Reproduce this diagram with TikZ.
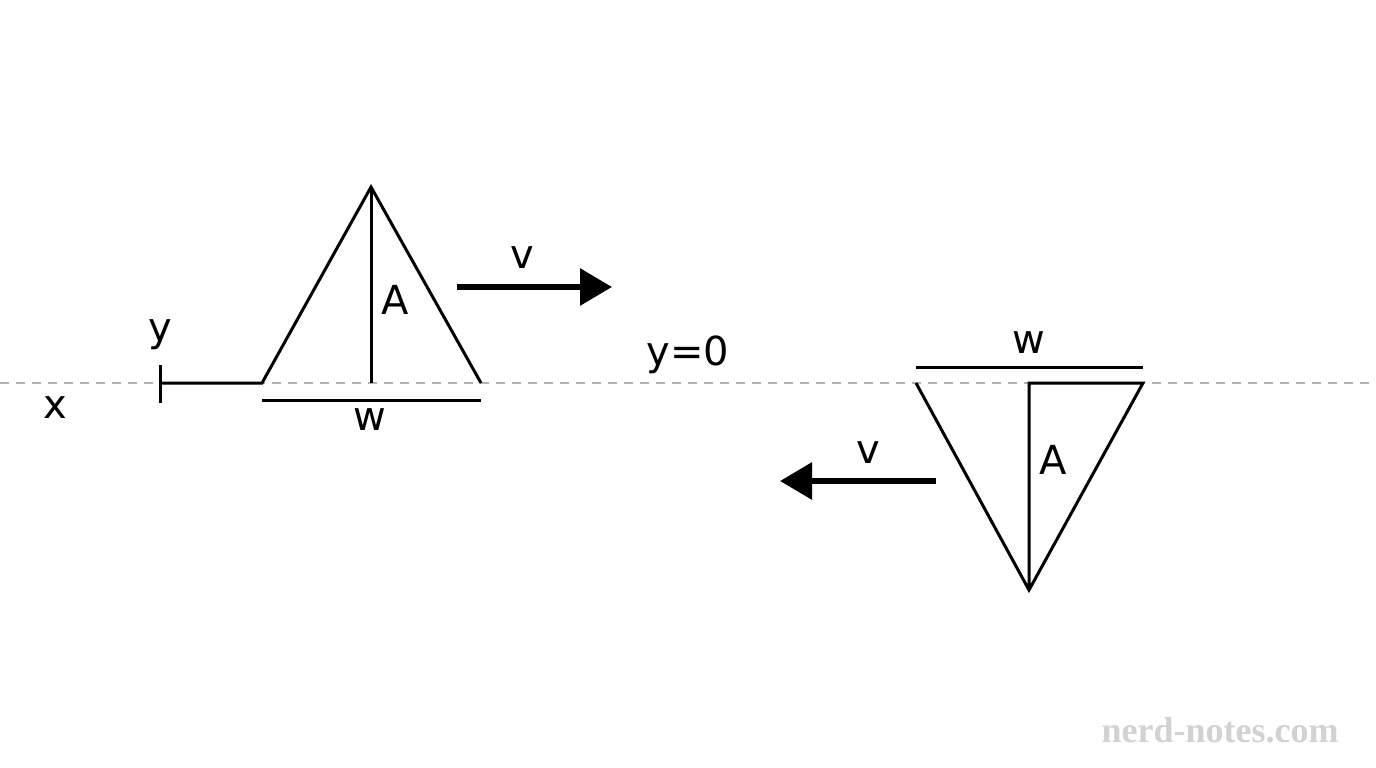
\documentclass[tikz,border=0pt]{standalone}
\usepackage{fontspec}
\setmainfont{DejaVu Sans}
\usetikzlibrary{arrows.meta}
\begin{document}
\begin{tikzpicture}[x=1pt,y=-1pt,
  ln/.style={line width=3pt,black},
  lbl/.style={font=\fontsize{40}{44}\selectfont},
  arr/.style={line width=6pt,-{Triangle[length=32pt,width=36pt]}}]
\useasboundingbox (0,0) rectangle (1376,768);
\fill[white] (0,0) rectangle (1376,768);
\coordinate (d0) at (0,383); \coordinate (d1) at (1376,383);
\draw[gray!60,line width=2pt,dash pattern=on 9pt off 7pt] (d0)--(d1);
\node[lbl] (lx) at (55,408) {x};
\node[lbl] (ly) at (160,335) {y};
\coordinate (t1) at (160,365); \coordinate (t2) at (160,403);
\draw[ln] (t1)--(t2);
\coordinate (o) at (160,383);
\coordinate (L1) at (262,383); \coordinate (L2) at (371,187); \coordinate (L3) at (481,383);
\coordinate (Lm) at (371,383);
\draw[ln] (o)--(L1)--(L2)--(L3);
\draw[ln] (L2)--(Lm);
\node[lbl] (A1) at (395,300) {A};
\coordinate (w1a) at (262,400); \coordinate (w1b) at (481,400);
\draw[ln] (w1a)--(w1b);
\node[lbl] (lw1) at (370,420) {w};
\coordinate (v1a) at (457,287); \coordinate (v1b) at (612,287);
\draw[arr] (v1a)--(v1b);
\node[lbl] (lv1) at (522,258) {v};
\node[lbl] (ly0) at (688,355) {y=0};
\coordinate (R1) at (916,383); \coordinate (R2) at (1029,590); \coordinate (R3) at (1143,383);
\coordinate (Rm) at (1029,383);
\draw[ln] (R1)--(R2)--(R3)--(Rm)--(R2);
\node[lbl] (A2) at (1053,460) {A};
\coordinate (w2a) at (916,367); \coordinate (w2b) at (1143,367);
\draw[ln] (w2a)--(w2b);
\node[lbl] (lw2) at (1029,343) {w};
\coordinate (v2a) at (936,481); \coordinate (v2b) at (780,481);
\draw[arr] (v2a)--(v2b);
\node[lbl] (lv2) at (868,453) {v};
\node[font=\fontspec{Liberation Serif}\bfseries\fontsize{36}{40}\selectfont,text=gray!35] (wm) at (1220,730) {nerd-notes.com};
\end{tikzpicture}
\end{document}
